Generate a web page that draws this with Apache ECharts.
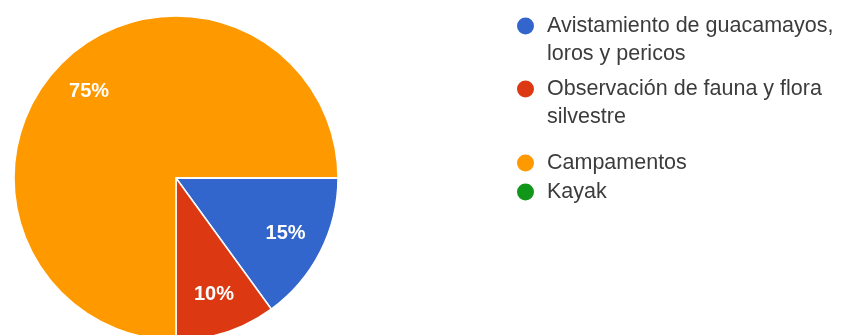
<!DOCTYPE html>
<html>
<head>
<meta charset="utf-8">
<script src="https://cdn.jsdelivr.net/npm/echarts@6/dist/echarts.min.js"></script>
<style>
  html, body { margin: 0; padding: 0; background: #ffffff; }
  #chart { width: 841px; height: 335px; }
</style>
</head>
<body>
<div id="chart"></div>
<script>
// Activity categories and their share of responses (percent)
const categories = [
  'Avistamiento de guacamayos, loros y pericos',
  'Observación de fauna y flora silvestre',
  'Campamentos',
  'Kayak'
];
const legendLines = [
  'Avistamiento de guacamayos,\nloros y pericos',
  'Observación de fauna y flora\nsilvestre',
  'Campamentos',
  'Kayak'
];
const shares = [15, 10, 75, 0];
const sliceColors = ['#3366cc', '#dc3912', '#ff9900', '#109618'];

const pieData = categories.map((name, i) => ({ name, value: shares[i] }));

const CENTER = [176, 178];
const RADIUS = 162;
const LINE_H = 28;
const ICON = 19;

// One legend block per category so each row sits at its own height.
// Wrapped names get a blank leading line so the first line lines up with the dot.
const legendTops = [-16, 47, 149, 178];
const legends = categories.map((name, i) => {
  const twoLines = legendLines[i].indexOf('\n') >= 0;
  return {
    data: [name],
    left: 515,
    top: legendTops[i],
    padding: 0,
    icon: 'circle',
    itemWidth: ICON,
    itemHeight: ICON,
    selectedMode: false,
    formatter: () => (twoLines ? '\n' + legendLines[i] : legendLines[i]),
    textStyle: {
      fontFamily: 'Arial, "Liberation Sans", sans-serif',
      fontSize: 21.5,
      color: '#3c3c3c',
      lineHeight: LINE_H,
      padding: [0, 0, 0, 7]
    }
  };
});

const chart = echarts.init(document.getElementById('chart'), null, { renderer: 'canvas' });
chart.setOption({
  animation: false,
  color: sliceColors,
  legend: legends,
  series: [
    {
      // the filled pie with white separators
      type: 'pie',
      center: CENTER,
      radius: [0, RADIUS],
      startAngle: 0,
      clockwise: true,
      silent: true,
      label: { show: false },
      labelLine: { show: false },
      itemStyle: { borderColor: '#ffffff', borderWidth: 1.5 },
      data: pieData
    },
    {
      // transparent ring that carries the percentage labels further out
      type: 'pie',
      center: CENTER,
      radius: [78, RADIUS],
      startAngle: 0,
      clockwise: true,
      silent: true,
      legendHoverLink: false,
      itemStyle: { color: 'rgba(0,0,0,0)' },
      label: {
        show: true,
        position: 'inside',
        color: '#ffffff',
        fontFamily: 'Arial, "Liberation Sans", sans-serif',
        fontSize: 20,
        fontWeight: 'bold',
        formatter: p => (p.value > 0 ? p.percent + '%' : '')
      },
      labelLine: { show: false },
      data: pieData
    }
  ]
});
</script>
</body>
</html>
